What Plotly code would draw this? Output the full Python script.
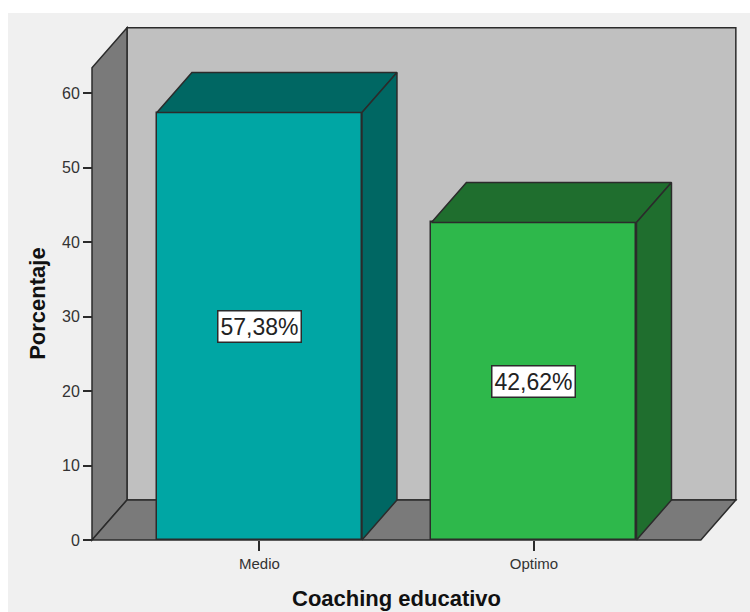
import plotly.graph_objects as go

# ---- data ----
CATEGORIES = ["Medio", "Optimo"]
PERCENTS = [57.38, 42.62]
Y_TICKS = [0, 10, 20, 30, 40, 50, 60]
X_TITLE = "Coaching educativo"
Y_TITLE = "Porcentaje"

# ---- styling ----
FRONT = ["#00a6a4", "#2eb84b"]
DARK = ["#006763", "#1f6e2e"]
BACK_WALL = "#c0c0c0"
SIDE_WALL = "#7a7a7a"
EDGE = "#2b2b2b"
BG = "#f0f0f0"

BAR_W = 0.747
DX = 0.1275          # depth offset (category units)
DY = 5.37            # depth offset (y units)
X0, X1 = -0.61, 1.608
WALL_TOP = 63.4

L, R, T, B = 88, 10, 25, 68
W, H = 750, 612
PW, PH = W - L - R, H - T - B
PX_PER_X = 274.5
PX_PER_Y = 7.45
x_min = X0 - 4 / PX_PER_X
x_max = x_min + PW / PX_PER_X
y_min = -4 / PX_PER_Y
y_max = y_min + PH / PX_PER_Y

xs = list(range(len(CATEGORIES)))

fig = go.Figure()

# front faces
fig.add_trace(go.Bar(
    x=xs, y=PERCENTS, width=BAR_W,
    marker=dict(color=FRONT, line=dict(color=EDGE, width=1.5)),
    hoverinfo="skip", showlegend=False,
))

# top and side faces
for i, v in zip(xs, PERCENTS):
    l, r = i - BAR_W / 2, i + BAR_W / 2
    fig.add_trace(go.Scatter(
        x=[l, l + DX, r + DX, r, l], y=[v, v + DY, v + DY, v, v],
        mode="lines", fill="toself", fillcolor=DARK[i],
        line=dict(color=EDGE, width=1.5), hoverinfo="skip", showlegend=False,
    ))
    fig.add_trace(go.Scatter(
        x=[r, r + DX, r + DX, r, r], y=[0, DY, v + DY, v, 0],
        mode="lines", fill="toself", fillcolor=DARK[i],
        line=dict(color=EDGE, width=1.5), hoverinfo="skip", showlegend=False,
    ))


def poly(pts):
    return "M " + " L ".join(f"{x},{y}" for x, y in pts) + " Z"


shapes = [
    # background panel
    dict(type="rect", xref="paper", yref="paper",
         x0=(8 - L) / PW, x1=(W - L) / PW,
         y0=(H - B - H) / PH, y1=(H - B - 13) / PH,
         fillcolor=BG, line=dict(width=0), layer="below"),
    # back wall
    dict(type="path", xref="x", yref="y",
         path=poly([(X0 + DX, DY), (X1 + DX, DY), (X1 + DX, WALL_TOP + DY), (X0 + DX, WALL_TOP + DY)]),
         fillcolor=BACK_WALL, line=dict(color=EDGE, width=1.5), layer="below"),
    # left wall
    dict(type="path", xref="x", yref="y",
         path=poly([(X0, 0), (X0 + DX, DY), (X0 + DX, WALL_TOP + DY), (X0, WALL_TOP)]),
         fillcolor=SIDE_WALL, line=dict(color=EDGE, width=1.5), layer="below"),
    # floor
    dict(type="path", xref="x", yref="y",
         path=poly([(X0, 0), (X0 + DX, DY), (X1 + DX, DY), (X1, 0)]),
         fillcolor=SIDE_WALL, line=dict(color=EDGE, width=1.5), layer="below"),
]

annotations = []
for i, v in zip(xs, PERCENTS):
    annotations.append(dict(
        x=i, y=v / 2, xref="x", yref="y", showarrow=False,
        text=f"{v:.2f}%".replace(".", ","),
        font=dict(family="Liberation Sans, Arial", size=23, color="#222"),
        bgcolor="white", bordercolor=EDGE, borderwidth=1.5, borderpad=2,
    ))
annotations.append(dict(
    x=(X0 + X1) / 2, xref="x", y=(H - B - 598) / PH, yref="paper",
    showarrow=False, text=f"<b>{X_TITLE}</b>", yanchor="middle",
    font=dict(family="Liberation Sans, Arial", size=22, color="#111"),
))
annotations.append(dict(
    x=(38 - L) / PW, xref="paper", y=WALL_TOP / 2, yref="y",
    showarrow=False, text=f"<b>{Y_TITLE}</b>", textangle=-90, xanchor="center",
    font=dict(family="Liberation Sans, Arial", size=22, color="#111"),
))

fig.update_layout(
    width=W, height=H,
    margin=dict(l=L, r=R, t=T, b=B),
    paper_bgcolor="white", plot_bgcolor="rgba(0,0,0,0)",
    shapes=shapes, annotations=annotations,
    xaxis=dict(range=[x_min, x_max], tickvals=xs, ticktext=CATEGORIES,
               showgrid=False, zeroline=False, showline=False,
               ticks="outside", ticklen=10, tickwidth=1.5, tickcolor=EDGE,
               anchor="free", position=4 / PH,
               tickfont=dict(family="Liberation Sans, Arial", size=15, color="#333")),
    yaxis=dict(range=[y_min, y_max], tickvals=Y_TICKS,
               showgrid=False, zeroline=False, showline=False,
               ticks="outside", ticklen=9, tickwidth=1.5, tickcolor=EDGE,
               anchor="free", position=4 / PW,
               tickfont=dict(family="Liberation Sans, Arial", size=16, color="#333")),
    bargap=0,
)

fig.write_html("out.html")
